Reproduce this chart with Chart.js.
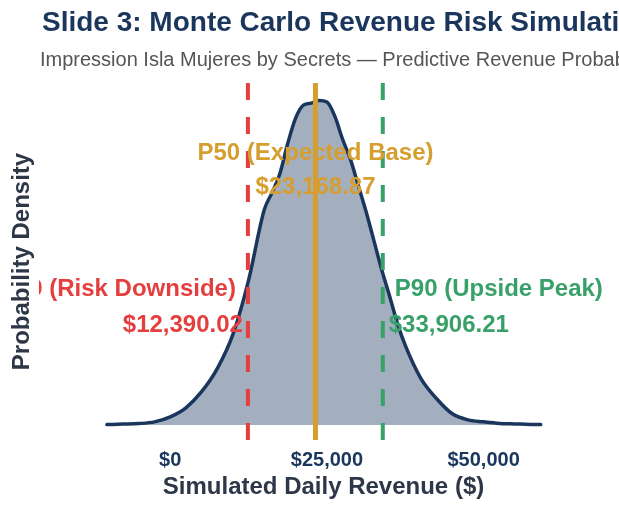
<!DOCTYPE html>
<html>
<head>
<meta charset="utf-8">
<script src="https://cdn.jsdelivr.net/npm/chart.js@4.4.1/dist/chart.umd.min.js"></script>
<style>
  html, body { margin: 0; padding: 0; background: #ffffff; }
</style>
</head>
<body>
<canvas id="mcChart" width="619" height="511"></canvas>
<script>
// simulated daily revenue grid ($) and the kernel density
const revenue = [-10100, -7500, -5000, -2500, 0, 2500, 5000, 7500, 10000, 12500,
    15000, 16250, 17500, 18750, 20000, 21250, 22500, 23750, 25000, 26250,
    27500, 28750, 30000, 31250, 32500, 33750, 35000, 36250, 37500, 40000,
    42500, 45000, 47500, 50000, 52500, 55000, 57500, 59100];
const density = [0.004e-5, 0.011e-5, 0.019e-5, 0.043e-5, 0.114e-5, 0.242e-5, 0.470e-5, 0.798e-5, 1.282e-5, 2.051e-5,
    3.048e-5, 3.290e-5, 3.561e-5, 3.988e-5, 4.344e-5, 4.529e-5, 4.557e-5, 4.593e-5, 4.572e-5, 4.372e-5,
    4.045e-5, 3.760e-5, 3.390e-5, 3.019e-5, 2.606e-5, 2.193e-5, 1.823e-5, 1.438e-5, 1.125e-5, 0.655e-5,
    0.370e-5, 0.157e-5, 0.071e-5, 0.043e-5, 0.021e-5, 0.014e-5, 0.007e-5, 0.004e-5];

const percentileNames = ['P10 (Risk Downside)', 'P50 (Expected Base)', 'P90 (Upside Peak)'];
const percentileValues = [12390.02, 23168.87, 33906.21];
const percentileColors = ['#e53e3e', '#d69e2e', '#38a169'];

const xTicks = [0, 25000, 50000];

const FONT = "'Liberation Sans', Arial, Helvetica, sans-serif";
const NAVY = '#1a365d';

const money = v => '$' + v.toLocaleString('en-US', { minimumFractionDigits: 2, maximumFractionDigits: 2 });

// title + subtitle, left aligned like the slide header
const header = {
    id: 'header',
    afterDraw(chart) {
        const c = chart.ctx;
        c.save();
        c.textAlign = 'left';
        c.textBaseline = 'alphabetic';
        c.fillStyle = NAVY;
        c.font = 'bold 28px ' + FONT;
        c.fillText('Slide 3: Monte Carlo Revenue Risk Simulation', 42, 31);
        c.fillStyle = '#555555';
        c.font = '20px ' + FONT;
        c.fillText('Impression Isla Mujeres by Secrets \u2014 Predictive Revenue Probability Distribution', 40, 66);
        c.restore();
    }
};

// vertical percentile markers and their annotations
const percentiles = {
    id: 'percentiles',
    afterDatasetsDraw(chart) {
        const c = chart.ctx;
        const x = chart.scales.x;
        const area = chart.chartArea;
        const h = area.bottom - area.top;

        percentileValues.forEach((v, i) => {
            const px = x.getPixelForValue(v);
            c.save();
            c.strokeStyle = percentileColors[i];
            c.lineWidth = i === 1 ? 5 : 4;
            c.setLineDash(i === 1 ? [] : [17, 17]);
            c.beginPath();
            c.moveTo(px, area.top);
            c.lineTo(px, area.bottom);
            c.stroke();
            c.restore();
        });

        c.save();
        c.beginPath();
        c.rect(39, 0, chart.width - 39, chart.height);
        c.clip();
        c.font = 'bold 24px ' + FONT;
        c.textBaseline = 'alphabetic';
        percentileValues.forEach((v, i) => {
            const px = x.getPixelForValue(v);
            c.fillStyle = percentileColors[i];
            if (i === 1) {
                c.textAlign = 'center';
                c.fillText(percentileNames[i], px, area.top + h * 0.217);
                c.fillText(money(v), px, area.top + h * 0.3115);
            } else if (i === 0) {
                c.textAlign = 'right';
                c.fillText(percentileNames[i], px - 12, area.top + h * 0.598);
                c.fillText(money(v), px - 5, area.top + h * 0.6966);
            } else {
                c.textAlign = 'left';
                c.fillText(percentileNames[i], px + 12, area.top + h * 0.598);
                c.fillText(money(v), px + 6, area.top + h * 0.6966);
            }
        });
        c.restore();
    }
};

const ctx = document.getElementById('mcChart').getContext('2d');
const mcChart = new Chart(ctx, {
    type: 'line',
    data: {
        datasets: [{
            label: 'Density',
            data: revenue.map((r, i) => ({ x: r, y: density[i] })),
            borderColor: NAVY,
            backgroundColor: 'rgba(26, 54, 93, 0.4)',
            borderWidth: 3.5,
            borderCapStyle: 'round',
            fill: 'origin',
            pointRadius: 0,
            cubicInterpolationMode: 'monotone'
        }]
    },
    options: {
        responsive: false,
        animation: false,
        devicePixelRatio: 1,
        layout: { padding: { top: 83, right: 57, bottom: 0, left: 0 } },
        plugins: {
            legend: { display: false },
            tooltip: { enabled: false }
        },
        scales: {
            x: {
                type: 'linear',
                min: -13600,
                max: 62500,
                grid: { display: false, drawTicks: false },
                border: { display: false },
                afterBuildTicks: scale => { scale.ticks = xTicks.map(v => ({ value: v })); },
                ticks: {
                    color: NAVY,
                    padding: 8,
                    maxRotation: 0,
                    font: { family: FONT, size: 20, weight: 'bold', lineHeight: 1.2 },
                    callback: v => '$' + v.toLocaleString('en-US')
                },
                title: {
                    display: true,
                    text: 'Simulated Daily Revenue ($)',
                    color: '#2d3748',
                    padding: { top: -5, bottom: 12 },
                    font: { family: FONT, size: 24, weight: 'bold', lineHeight: 1 }
                }
            },
            y: {
                min: -0.214e-5,
                max: 4.842e-5,
                grid: { display: false, drawTicks: false },
                border: { display: false },
                ticks: { display: false },
                title: {
                    display: true,
                    text: 'Probability Density',
                    color: '#2d3748',
                    padding: { top: 10, bottom: 51 },
                    font: { family: FONT, size: 24, weight: 'bold', lineHeight: 1 }
                }
            }
        }
    },
    plugins: [header, percentiles]
});
</script>
</body>
</html>
